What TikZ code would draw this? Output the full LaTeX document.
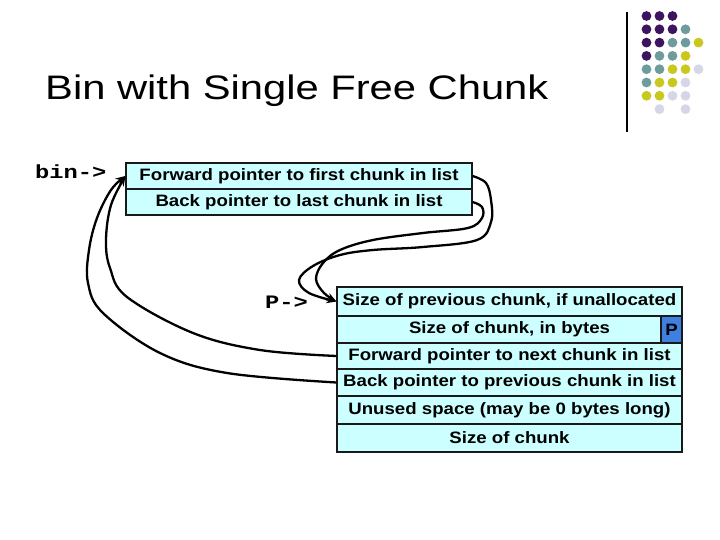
\documentclass[tikz,border=0pt]{standalone}
\usepackage{fontspec}
\setmainfont{Liberation Sans}
\newfontfamily\titlefont{Liberation Sans}[FakeStretch=1.227]
\newfontfamily\boxfont{Liberation Sans}[FakeStretch=1.13]
\newfontfamily\ptrfont{Liberation Mono}[FakeStretch=1.25]
\usetikzlibrary{arrows.meta}
\definecolor{cellfill}{HTML}{CCFFFF}
\definecolor{pblue}{HTML}{3F7FE0}
\definecolor{dpurple}{HTML}{3D1460}
\definecolor{dteal}{HTML}{6E9C9C}
\definecolor{dyellow}{HTML}{C8C81E}
\definecolor{dlav}{HTML}{D6D6E8}
\begin{document}
\begin{tikzpicture}[x=1pt,y=-1pt,
  cell/.style={draw=black!90, line width=1.1pt, fill=cellfill, inner sep=0pt,
    font=\boxfont\bfseries\fontsize{16.5}{17}\selectfont},
  ptr/.style={inner sep=0pt, anchor=base west, font=\ptrfont\bfseries\fontsize{19}{19}\selectfont},
  conn/.style={line width=2.3pt, black},
  tip/.style={-{Stealth[length=10pt,width=8pt]}},
  dot/.style={fill=#1, draw=none}]
\fill[white] (0,0) rectangle (720,540);
\useasboundingbox (0,0) rectangle (720,540);

% title
\node[inner sep=0pt, anchor=base west, font=\titlefont\fontsize{34}{36}\selectfont] (title) at (45,99.3) {Bin with Single Free Chunk};

% logo
\draw[line width=1.3pt] (627,12) coordinate (la) -- (627,132) coordinate (lb);
\foreach \c/\r/\col in {0/0/dpurple,1/0/dpurple,2/0/dpurple,
  0/1/dpurple,1/1/dpurple,2/1/dpurple,3/1/dteal,
  0/2/dpurple,1/2/dpurple,2/2/dteal,3/2/dteal,4/2/dyellow,
  0/3/dpurple,1/3/dteal,2/3/dteal,3/3/dyellow,
  0/4/dteal,1/4/dteal,2/4/dyellow,3/4/dyellow,4/4/dlav,
  0/5/dteal,1/5/dyellow,2/5/dyellow,3/5/dlav,
  0/6/dyellow,1/6/dyellow,2/6/dlav,3/6/dlav,
  1/7/dlav,3/7/dlav}
  \fill[\col] ({646.5+13*\c},{16+13.3*\r}) circle (4.9);

% bin
\node[ptr] (binlbl) at (35,179) {bin->};
\node[cell, minimum width=346pt, minimum height=26pt] (b1) at (299,176) {Forward pointer to first chunk in list};
\node[cell, minimum width=346pt, minimum height=26pt] (b2) at (299,202) {Back pointer to last chunk in list};

% chunk
\node[ptr] (plbl) at (265,308) {P->};
\node[cell, minimum width=345pt, minimum height=29pt] (c1) at (509.5,301.5) {Size of previous chunk, if unallocated};
\node[cell, minimum width=345pt, minimum height=27pt] (c2) at (509.5,329.5) {Size of chunk, in bytes};
\node[cell, fill=pblue, minimum width=21pt, minimum height=27pt] (pc) at (671.5,329.5) {P};
\node[cell, minimum width=345pt, minimum height=26pt] (c3) at (509.5,356) {Forward pointer to next chunk in list};
\node[cell, minimum width=345pt, minimum height=27pt] (c4) at (509.5,382.5) {Back pointer to previous chunk in list};
\node[cell, minimum width=345pt, minimum height=28pt] (c5) at (509.5,410) {Unused space (may be 0 bytes long)};
\node[cell, minimum width=345pt, minimum height=28pt] (c6) at (509.5,438) {Size of chunk};

% connectors bin -> P
\draw[conn,tip] plot[smooth, tension=0.6] coordinates {(b1.east) (486,183) (491,200) (491,222) (477,240) (423,247) (373,250) (340,255) (313,266) (299,280) (309,293) (c1.west)};
\draw[conn,tip] plot[smooth, tension=0.6] coordinates {(b2.east) (482,207) (482,218) (468,228) (423,233) (373,240) (340,250) (323,263) (316,279) (324,293) (c1.west)};

% connectors chunk -> bin
\draw[conn,tip] plot[smooth, tension=0.6] coordinates {(c3.west) (260,350) (193,333) (127,297) (110,268) (106,240) (111,205) (b1.west)};
\draw[conn,tip] plot[smooth, tension=0.6] coordinates {(c4.west) (227,373) (160,353) (103,313) (88,283) (89,250) (97,218) (111,190) (b1.west)};
\end{tikzpicture}
\end{document}
